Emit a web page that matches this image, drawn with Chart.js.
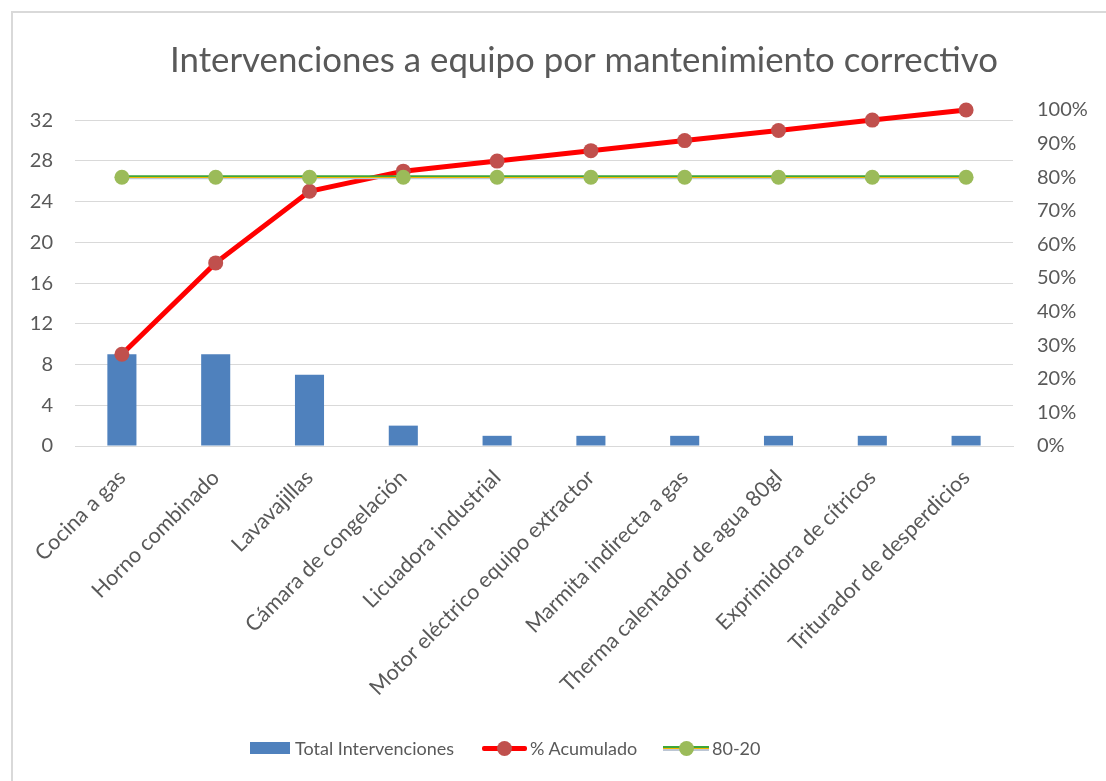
<!DOCTYPE html>
<html>
<head>
<meta charset="utf-8">
<script src="https://cdn.jsdelivr.net/npm/chart.js@4.4.1/dist/chart.umd.min.js"></script>
<style>
  html, body { margin: 0; padding: 0; background: #fff; overflow: hidden; }
  #frame { position: absolute; left: 11px; top: 11px; width: 1200px; height: 900px; border: 2px solid #D9D9D9; box-sizing: border-box; }
  #wrap { position: absolute; left: 0; top: 0; width: 1106px; height: 781px; }
  #legend { position: absolute; top: 736px; left: 250px; height: 24px; font-family: Lato, sans-serif; font-size: 18px; color: #595959; white-space: nowrap; }
  .item { position: absolute; top: 0; height: 24px; line-height: 24px; }
  .sym { position: absolute; }
</style>
</head>
<body>
<div id="frame"></div>
<div id="wrap"><canvas id="c" width="1106" height="781"></canvas></div>
<div id="legend"></div>
<script>
const titleText = "Intervenciones a equipo por mantenimiento correctivo";
const categories = [
  "Cocina a gas",
  "Horno combinado",
  "Lavavajillas",
  "Cámara de congelación",
  "Licuadora industrial",
  "Motor eléctrico equipo extractor",
  "Marmita indirecta a gas",
  "Therma calentador de agua 80gl",
  "Exprimidora de cítricos",
  "Triturador de desperdicios"
];
const seriesNames = ["Total Intervenciones", "% Acumulado", "80-20"];
const totalIntervenciones = [9, 9, 7, 2, 1, 1, 1, 1, 1, 1];
const pctAcumulado = [27.3, 54.5, 75.8, 81.8, 84.8, 87.9, 90.9, 93.9, 97.0, 100];
const linea8020 = [80, 80, 80, 80, 80, 80, 80, 80, 80, 80];
const leftTicksMax = 33;
const leftStep = 4;
const rightMax = 100;
const rightStep = 10;

const FONT = "Lato, 'Open Sans', sans-serif";
const TXT = "#595959";
const GRID = "#D9D9D9";

function stripeGradient(chart) {
  const s = chart.scales && chart.scales.y1;
  if (!s || !chart.chartArea) return "#70AD47";
  const y = s.getPixelForValue(linea8020[0]);
  const g = chart.ctx.createLinearGradient(0, y - 2, 0, y + 2);
  g.addColorStop(0, "#3FA63A");
  g.addColorStop(0.33, "#3FA63A");
  g.addColorStop(0.34, "#F4B800");
  g.addColorStop(0.66, "#F4B800");
  g.addColorStop(0.67, "#BCC6D4");
  g.addColorStop(1, "#BCC6D4");
  return g;
}

const titlePlugin = {
  id: "customTitle",
  afterDraw(chart) {
    const ctx = chart.ctx;
    ctx.save();
    ctx.font = "30px " + FONT;
    const w = ctx.measureText(titleText).width;
    const size = 30 * 828 / w;
    ctx.font = size.toFixed(2) + "px " + FONT;
    ctx.fillStyle = TXT;
    ctx.textAlign = "center";
    ctx.textBaseline = "alphabetic";
    ctx.fillText(titleText, 584, 72);
    ctx.restore();
  }
};

new Chart(document.getElementById("c"), {
  type: "bar",
  data: {
    labels: categories,
    datasets: [
      {
        type: "bar",
        label: seriesNames[0],
        data: totalIntervenciones,
        backgroundColor: "#4F81BD",
        yAxisID: "y",
        barPercentage: 0.62,
        categoryPercentage: 0.5,
        order: 3
      },
      {
        type: "line",
        label: seriesNames[1],
        data: pctAcumulado,
        borderColor: "#FF0000",
        borderWidth: 5,
        pointRadius: 7.5,
        pointHoverRadius: 7.5,
        pointBackgroundColor: "#C0504D",
        pointBorderColor: "#C0504D",
        pointBorderWidth: 0,
        tension: 0,
        clip: false,
        yAxisID: "y1",
        order: 2
      },
      {
        type: "line",
        label: seriesNames[2],
        data: linea8020,
        borderColor: (ctx) => stripeGradient(ctx.chart),
        borderWidth: 4,
        pointRadius: 7.5,
        pointHoverRadius: 7.5,
        pointBackgroundColor: "#9BBB59",
        pointBorderColor: "#9BBB59",
        pointBorderWidth: 0,
        tension: 0,
        clip: false,
        yAxisID: "y1",
        order: 1
      }
    ]
  },
  options: {
    responsive: false,
    animation: false,
    events: [],
    layout: { padding: { top: 110, bottom: 0, left: 0, right: 0 } },
    plugins: {
      legend: { display: false },
      title: { display: false },
      tooltip: { enabled: false }
    },
    scales: {
      x: {
        grid: { display: false, drawTicks: false },
        border: { display: true, color: GRID, width: 1 },
        ticks: {
          color: TXT,
          font: { family: FONT, size: 21.5 },
          maxRotation: 45,
          minRotation: 45,
          autoSkip: false,
          padding: 19
        },
        afterFit(scale) { scale.height = 781 - 446; }
      },
      y: {
        position: "left",
        min: 0,
        max: leftTicksMax,
        grid: { color: GRID, lineWidth: 1, drawTicks: false },
        border: { display: false },
        ticks: {
          stepSize: leftStep,
          includeBounds: false,
          color: TXT,
          font: { family: FONT, size: 20 },
          padding: 22
        },
        afterFit(scale) { scale.width = 75; }
      },
      y1: {
        position: "right",
        min: 0,
        max: rightMax,
        grid: { display: false, drawTicks: false },
        border: { display: false },
        ticks: {
          stepSize: rightStep,
          color: TXT,
          font: { family: FONT, size: 20 },
          padding: 24,
          callback: (v) => v + "%"
        },
        afterFit(scale) { scale.width = 1106 - 1013; }
      }
    }
  },
  plugins: [titlePlugin]
});

// HTML legend
const legend = document.getElementById("legend");
function addItem(left, symHtml, textLeft, text) {
  const d = document.createElement("div");
  d.className = "item";
  d.style.left = left + "px";
  d.innerHTML = symHtml + '<span style="position:absolute;left:' + textLeft + 'px;top:0">' + text + '</span>';
  legend.appendChild(d);
}
addItem(0,
  '<div class="sym" style="left:0;top:6px;width:40px;height:12px;background:#4F81BD"></div>',
  45, seriesNames[0]);
addItem(232,
  '<div class="sym" style="left:0;top:10px;width:45px;height:5px;background:#FF0000;border-radius:2px"></div>' +
  '<div class="sym" style="left:15px;top:5px;width:15px;height:15px;border-radius:50%;background:#C0504D"></div>',
  48, seriesNames[1]);
addItem(413,
  '<div class="sym" style="left:0;top:10px;width:46px;height:1.5px;background:#3FA63A"></div>' +
  '<div class="sym" style="left:0;top:11.5px;width:46px;height:1.5px;background:#F4B800"></div>' +
  '<div class="sym" style="left:0;top:13px;width:46px;height:1.5px;background:#BCC6D4"></div>' +
  '<div class="sym" style="left:16px;top:5px;width:15px;height:15px;border-radius:50%;background:#9BBB59"></div>',
  49, seriesNames[2]);
</script>
</body>
</html>
